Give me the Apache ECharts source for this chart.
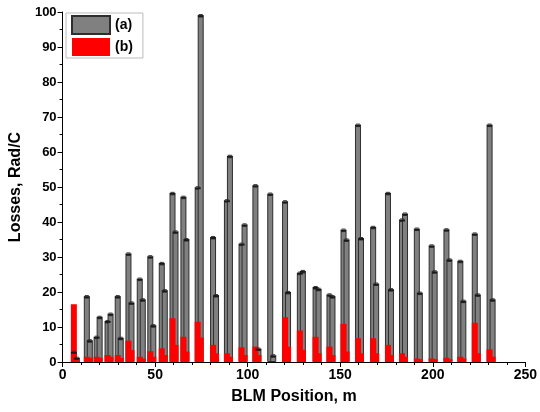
<!DOCTYPE html>
<html>
<head>
<meta charset="utf-8">
<script src="https://cdn.jsdelivr.net/npm/echarts@6/dist/echarts.min.js"></script>
<style>html,body{margin:0;padding:0;background:#fff}#c{width:540px;height:412px}</style>
</head>
<body>
<div id="c"></div>
<script>
// BLM positions (m)
var positions = [6.9, 13.9, 19.2, 25.1, 30.6, 36.4, 42.5, 48.2, 54.4, 60.2, 66.1, 73.8, 82.1, 89.6, 97.5, 105.0,
  113.0, 121.0, 129.0, 137.5, 145.0, 152.6, 160.4, 168.6, 176.6, 184.2, 192.2, 200.2, 208.2, 215.7, 223.5, 231.5];
// (a) losses, two measurements per BLM (Rad/C)
var aFirst = [2.5, 18.4, 6.8, 11.3, 18.4, 30.6, 23.4, 29.8, 27.9, 47.9, 46.8, 49.5, 35.3, 45.8, 33.4, 50.1,
  47.7, 45.5, 25.1, 21.0, 18.9, 37.4, 67.4, 38.2, 47.9, 40.3, 37.7, 32.9, 37.5, 28.5, 36.3, 67.4];
var aSecond = [0.8, 5.8, 12.5, 13.4, 6.5, 16.6, 17.5, 10.1, 20.1, 36.9, 34.7, 98.7, 18.7, 58.5, 38.9, 3.4,
  1.5, 19.6, 25.6, 20.5, 18.4, 34.6, 35.0, 22.0, 20.4, 42.0, 19.4, 25.5, 28.9, 17.1, 18.9, 17.5];
// (b) losses, two measurements per BLM (Rad/C)
var bFirst = [16.5, 1.5, 1.5, 2.0, 2.0, 6.1, 1.5, 3.1, 3.9, 12.5, 7.2, 11.5, 4.9, 2.5, 4.2, 4.4,
  0, 12.8, 9.0, 7.2, 4.4, 10.9, 6.8, 6.8, 4.9, 2.5, 1.0, 1.0, 1.2, 1.5, 11.2, 3.6];
var bSecond = [0.5, 1.2, 1.2, 1.5, 1.2, 3.4, 1.0, 1.5, 2.0, 4.9, 3.0, 7.0, 2.5, 1.5, 2.0, 2.0,
  0, 4.4, 3.5, 2.5, 2.0, 3.0, 2.5, 2.5, 2.0, 1.5, 0.8, 0.8, 0.8, 1.0, 2.5, 1.5];
var xTicks = [0, 50, 100, 150, 200, 250];
var yTicks = [0, 10, 20, 30, 40, 50, 60, 70, 80, 90, 100];

function pairs(vals) { return positions.map(function (p, i) { return [p, vals[i]]; }); }

var font = 'Liberation Sans, Arial, sans-serif';
var chart = echarts.init(document.getElementById('c'), null, { renderer: 'canvas' });
var grayStyle = { color: '#808080', borderColor: '#2e2e2e', borderWidth: 1 };
var redStyle = { color: '#ff0000' };
var axisCommon = {
  axisLine: { show: true, lineStyle: { color: '#000', width: 1 } },
  splitLine: { show: false }
};
// error-bar caps on top of the gray bars (shift = which of the pair)
function capSeries(vals, shift) {
  return {
    type: 'custom', xAxisIndex: 0, z: 4, silent: true, data: pairs(vals),
    renderItem: function (params, api) {
      if (api.value(1) <= 0) return null;
      var p = api.coord([api.value(0), api.value(1)]);
      var cx = p[0] + shift;
      return {
        type: 'group', children: [
          { type: 'line', shape: { x1: cx - 3, y1: p[1] - 0.5, x2: cx + 3, y2: p[1] - 0.5 }, style: { stroke: '#1a1a1a', lineWidth: 2 } },
          { type: 'line', shape: { x1: cx - 2, y1: p[1] - 2, x2: cx + 2, y2: p[1] - 2 }, style: { stroke: '#333', lineWidth: 1 } }
        ]
      };
    }
  };
}
chart.setOption({
  animation: false,
  grid: { left: 62, right: 9, top: 12, bottom: 50, containLabel: false },
  legend: {
    orient: 'vertical', left: 66, top: 13, data: ['(a)', '(b)'],
    icon: 'rect', itemWidth: 38, itemHeight: 18, itemGap: 3,
    borderColor: '#bbbbbb', borderWidth: 1, padding: [2, 10, 2, 5],
    textStyle: { fontFamily: font, fontWeight: 'bold', fontSize: 14, color: '#000' }
  },
  xAxis: [
    Object.assign({
      type: 'value', min: xTicks[0], max: xTicks[xTicks.length - 1], interval: 50,
      name: 'BLM Position, m', nameLocation: 'middle', nameGap: 27,
      nameTextStyle: { fontFamily: font, fontWeight: 'bold', fontSize: 16, color: '#000' },
      axisTick: { show: true, inside: false, length: 5, lineStyle: { color: '#000' } },
      minorTick: { show: true, splitNumber: 5, length: 3, lineStyle: { color: '#000' } },
      axisLabel: { fontFamily: font, fontWeight: 'bold', fontSize: 14, color: '#000', margin: 6 }
    }, axisCommon),
    { type: 'value', min: 0, max: 250, show: false }
  ],
  yAxis: Object.assign({
    type: 'value', min: yTicks[0], max: yTicks[yTicks.length - 1], interval: 10,
    name: 'Losses, Rad/C', nameLocation: 'middle', nameGap: 28,
    nameTextStyle: { fontFamily: font, fontWeight: 'bold', fontSize: 16, color: '#000' },
    axisTick: { show: true, inside: false, length: 5, lineStyle: { color: '#000' } },
    minorTick: { show: true, splitNumber: 2, length: 3, lineStyle: { color: '#000' } },
    axisLabel: { fontFamily: font, fontWeight: 'bold', fontSize: 13, color: '#000', margin: 6 }
  }, axisCommon),
  series: [
    { name: '(a)', type: 'bar', xAxisIndex: 0, data: pairs(aFirst), barWidth: 6, barGap: '-50%', itemStyle: grayStyle, z: 2 },
    { name: '(a)', type: 'bar', xAxisIndex: 0, data: pairs(aSecond), barWidth: 6, barGap: '-50%', itemStyle: grayStyle, z: 2 },
    { name: '(b)', type: 'bar', xAxisIndex: 1, data: pairs(bFirst), barWidth: 6, barGap: '-50%', itemStyle: redStyle, z: 3 },
    { name: '(b)', type: 'bar', xAxisIndex: 1, data: pairs(bSecond), barWidth: 6, barGap: '-50%', itemStyle: redStyle, z: 3 },
    capSeries(aFirst, -1.5),
    capSeries(aSecond, 1.5)
  ]
});
</script>
</body>
</html>
